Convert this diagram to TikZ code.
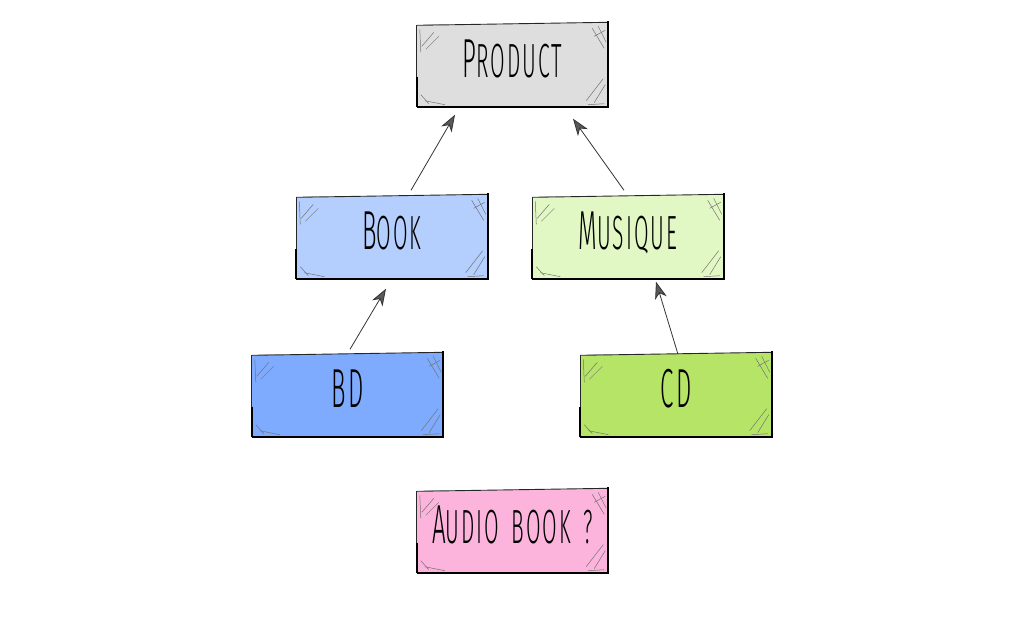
\documentclass[tikz,border=0pt]{standalone}
\usepackage{fontspec}
\newfontfamily\hand[FakeStretch=0.44,LetterSpace=4,WordSpace=1.6]{Fira Sans Light}
\usetikzlibrary{arrows.meta,calc,backgrounds}
\definecolor{cprod}{HTML}{DEDEDE}
\definecolor{cbook}{HTML}{B4CEFD}
\definecolor{cmus}{HTML}{E2F8C4}
\definecolor{cbd}{HTML}{7EABFD}
\definecolor{ccd}{HTML}{B6E466}
\definecolor{caudio}{HTML}{FDB4DC}
\tikzset{
  box/.style={rectangle, minimum width=191pt, minimum height=84pt, inner sep=0pt, font=\hand\fontsize{48}{48}\selectfont, text=black},
  edgethin/.style={draw=black!85, line width=0.9pt},
  edgethick/.style={draw=black, line width=2pt},
  scratch/.style={draw=black!55, line width=0.5pt},
  arr/.style={draw=black!80, line width=0.8pt, -{Stealth[length=17pt,width=12pt,inset=5pt,fill=black!65]}},
}
\newcommand\bigfirst[1]{{\fontsize{55}{55}\selectfont #1}}
\newcommand\lbl[1]{\smash{\raisebox{-12.5pt}{#1}}}
\newcommand\skbox[5]{%
  \node[box] (#1) at (#2,#3) {\lbl{#5}};
  \begin{scope}[on background layer]
    \fill[#4] ($(#1.north west)+(0,3)$) -- (#1.north east) -- (#1.south east) -- (#1.south west) -- cycle;
    \draw[edgethin] ($(#1.north west)+(0,3)$) -- (#1.north east);
    \draw[edgethin] ($(#1.north west)+(0,3)$) -- (#1.south west);
    \draw[edgethick] ($(#1.north east)+(0,-1)$) -- (#1.south east) -- (#1.south west);
    \draw[edgethick] ($(#1.south west)+(0,-30)$) -- (#1.south west);
    \draw[scratch] ($(#1.north west)+(5,24)$) -- ($(#1.north west)+(17,10)$);
    \draw[scratch] ($(#1.north west)+(9,27)$) -- ($(#1.north west)+(22,14)$);
    \draw[scratch] ($(#1.north west)+(3,7)$) -- ($(#1.north west)+(4,30)$);
    \draw[scratch] ($(#1.north west)+(8,3)$) -- ($(#1.north west)+(22,2)$);
    \draw[scratch] ($(#1.north east)+(-16,6)$) -- ($(#1.north east)+(-4,26)$);
    \draw[scratch] ($(#1.north east)+(-10,4)$) -- ($(#1.north east)+(-2,20)$);
    \draw[scratch] ($(#1.north east)+(-14,14)$) -- ($(#1.north east)+(-3,8)$);
    \draw[scratch] ($(#1.south east)+(-22,-6)$) -- ($(#1.south east)+(-5,-28)$);
    \draw[scratch] ($(#1.south east)+(-14,-4)$) -- ($(#1.south east)+(-3,-22)$);
    \draw[scratch] ($(#1.south east)+(-20,-2)$) -- ($(#1.south east)+(-4,-3)$);
    \draw[scratch] ($(#1.south west)+(8,-6)$) -- ($(#1.south west)+(28,-2)$);
    \draw[scratch] ($(#1.south west)+(4,-12)$) -- ($(#1.south west)+(12,-3)$);
  \end{scope}
}
\begin{document}
\begin{tikzpicture}[x=1pt,y=-1pt]
\useasboundingbox (0,0) rectangle (1021,632);
\skbox{product}{512.5}{64.5}{cprod}{\bigfirst{P}RODUCT}
\skbox{book}{392}{236.5}{cbook}{\bigfirst{B}OOK}
\skbox{musique}{628}{236.5}{cmus}{\bigfirst{M}USIQUE}
\skbox{bd}{347.5}{394.5}{cbd}{\bigfirst{B}\bigfirst{D}}
\skbox{cd}{676}{394.5}{ccd}{\bigfirst{C}\bigfirst{D}}
\skbox{audio}{512.5}{530.5}{caudio}{\bigfirst{A}UDIO BOOK ?}
\draw[arr] ([xshift=19pt,yshift=4pt]book.north) -- ([xshift=-57.5pt,yshift=-8pt]product.south);
\draw[arr] ([xshift=-4pt,yshift=4pt]musique.north) -- ([xshift=60.5pt,yshift=-12pt]product.south);
\draw[arr] ([xshift=2.5pt,yshift=3pt]bd.north) -- ([xshift=-6pt,yshift=-10pt]book.south);
\draw[arr] ([xshift=2pt,yshift=-2pt]cd.north) -- ([xshift=28pt,yshift=-3pt]musique.south);
\end{tikzpicture}
\end{document}
